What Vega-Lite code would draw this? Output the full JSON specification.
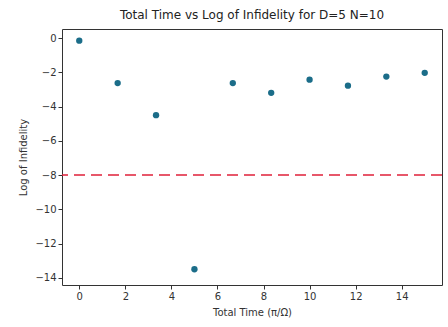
{
  "$schema": "https://vega.github.io/schema/vega-lite/v6.json",
  "autosize": "none",
  "padding": {"left": 62, "top": 29, "right": 6, "bottom": 42},
  "width": 380,
  "height": 256,
  "background": "white",
  "title": {"text": "Total Time vs Log of Infidelity for D=5 N=10", "font": "DejaVu Sans", "fontSize": 12, "fontWeight": "normal", "color": "#222", "offset": 7},
  "config": {
    "view": {"stroke": "#333", "strokeWidth": 1},
    "axis": {"labelFont": "DejaVu Sans", "titleFont": "DejaVu Sans", "labelFontSize": 10, "titleFontSize": 10, "titleFontWeight": "normal", "labelColor": "#333", "titleColor": "#333", "tickColor": "#333", "domain": false, "grid": false, "tickSize": 4, "labelOverlap": false, "labelFlush": false}
  },
  "datasets": {
    "pts": [
      {"t": 0, "v": -0.15},
      {"t": 1.6667, "v": -2.63},
      {"t": 3.3333, "v": -4.5},
      {"t": 5, "v": -13.5},
      {"t": 6.6667, "v": -2.63},
      {"t": 8.3333, "v": -3.2},
      {"t": 10, "v": -2.43},
      {"t": 11.6667, "v": -2.78},
      {"t": 13.3333, "v": -2.25},
      {"t": 15, "v": -2.03}
    ],
    "thr": [{"v": -8}]
  },
  "layer": [
    {
      "data": {"name": "thr"},
      "mark": {"type": "rule", "color": "#e0213a", "strokeWidth": 1.5, "strokeDash": [11, 6]},
      "encoding": {"y": {"field": "v", "type": "quantitative"}}
    },
    {
      "data": {"name": "pts"},
      "mark": {"type": "circle", "size": 40, "opacity": 1, "color": "#1b6d89"},
      "encoding": {
        "x": {"field": "t", "type": "quantitative", "scale": {"domain": [-0.75, 15.75], "nice": false, "zero": false}, "axis": {"values": [0, 2, 4, 6, 8, 10, 12, 14], "tickCount": 20, "title": "Total Time (π/Ω)", "titlePadding": 6}},
        "y": {"field": "v", "type": "quantitative", "scale": {"domain": [-14.42, 0.53], "nice": false, "zero": false}, "axis": {"values": [0, -2, -4, -6, -8, -10, -12, -14], "tickCount": 20, "title": "Log of Infidelity", "titlePadding": 6, "labelExpr": "replace(datum.label, '-', '−')"}}
      }
    }
  ]
}
